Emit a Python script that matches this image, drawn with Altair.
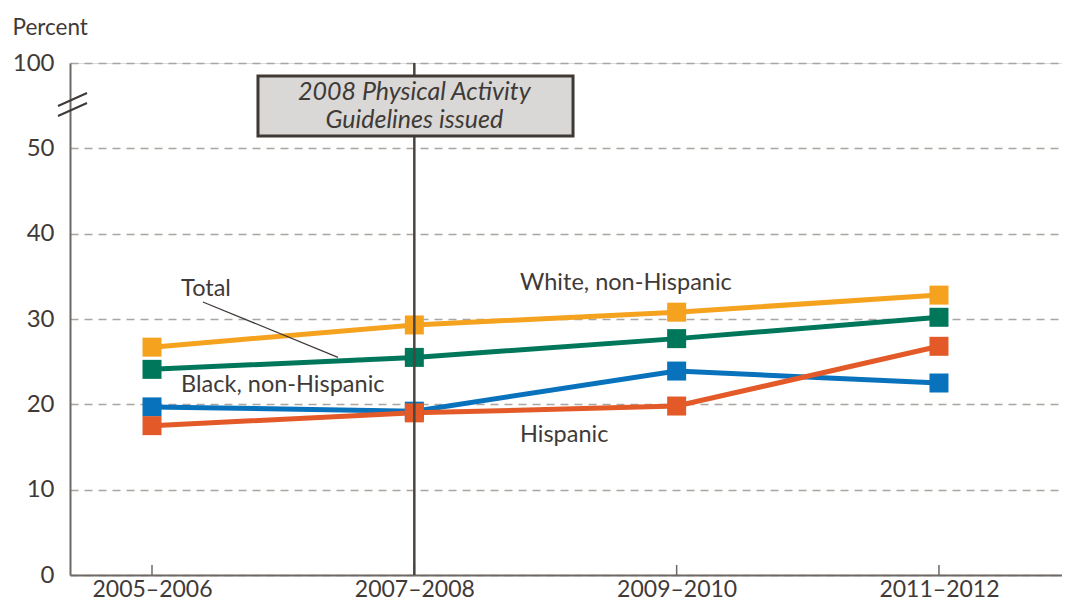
import altair as alt
import pandas as pd

# ---- data ----
periods = ["2005–2006", "2007–2008", "2009–2010", "2011–2012"]
series_names = ["White, non-Hispanic", "Total", "Black, non-Hispanic", "Hispanic"]
white = [26.7, 29.3, 30.8, 32.8]
total = [24.1, 25.5, 27.7, 30.2]
black = [19.7, 19.2, 23.9, 22.5]
hispanic = [17.5, 19.0, 19.8, 26.8]
colors = ["#F5A21F", "#00775B", "#0872BC", "#E35A28"]
y_ticks = [0, 10, 20, 30, 40, 50, 60]   # 60 is shown as "100" (broken axis)

rows = []
for name, vals in zip(series_names, [white, total, black, hispanic]):
    for i, v in enumerate(vals):
        rows.append({"series": name, "idx": i, "period": periods[i], "value": v})
df = pd.DataFrame(rows)

ticks_df = pd.DataFrame({"idx": list(range(len(periods)))})

labels_df = pd.DataFrame({
    "text": ["Total", "White, non-Hispanic", "Black, non-Hispanic", "Hispanic"],
    "idx": [0.111, 1.403, 0.111, 1.403],
    "value": [33.5, 34.2, 22.3, 16.4],
})
leader_df = pd.DataFrame({"x": [0.194], "y": [32.0], "x2": [0.709], "y2": [25.5]})
event_df = pd.DataFrame({"idx": [1], "y": [60], "y2": [0]})
box_df = pd.DataFrame({"x": [0.404], "x2": [1.605], "y": [58.48], "y2": [51.45]})
box_text_df = pd.DataFrame({
    "text": ["2008 Physical Activity", "Guidelines issued"],
    "idx": [1, 1],
    "value": [56.6, 53.3],
})

FONT = "Lato"
TXT = "#3f3a37"
AX = "#6e6964"

xscale = alt.Scale(domain=[-0.3126, 3.469], nice=False, zero=False)
yscale = alt.Scale(domain=[0, 60], nice=False)

label_expr = ("datum.value == 0 ? '2005–2006' : datum.value == 1 ? '2007–2008' : "
              "datum.value == 2 ? '2009–2010' : '2011–2012'")

x_enc = alt.X("idx:Q", scale=xscale, axis=alt.Axis(
    values=[0, 1, 2, 3], labelExpr=label_expr, title=None, grid=False, ticks=False,
    domainColor=AX, domainWidth=2, labelFont=FONT, labelFontSize=23, labelColor=TXT,
    labelPadding=3, labelFlush=False))
y_enc = alt.Y("value:Q", scale=yscale, axis=alt.Axis(
    values=y_ticks, labelExpr="datum.value == 60 ? '100' : datum.label",
    title="Percent", titleAngle=0, titleAlign="left", titleBaseline="middle",
    titleX=-58, titleY=-36, titleFont=FONT, titleFontSize=22.5, titleFontWeight="normal",
    titleColor=TXT, grid=True, gridDash=[8, 6], gridColor="#a9a5a0", gridWidth=1.5,
    ticks=False, domainColor=AX, domainWidth=2, labelFont=FONT, labelFontSize=24,
    labelColor=TXT, labelPadding=16))

color_enc = alt.Color("series:N", scale=alt.Scale(domain=series_names, range=colors), legend=None)

base = alt.Chart(df)
lines = base.mark_line(strokeWidth=5).encode(x=x_enc, y=y_enc, color=color_enc, detail="series:N")
points = base.mark_square(size=361, opacity=1, filled=True).encode(
    x=alt.X("idx:Q", scale=xscale), y=alt.Y("value:Q", scale=yscale), color=color_enc)

xticks = alt.Chart(ticks_df).mark_rule(color=AX, strokeWidth=1.5).encode(
    x=alt.X("idx:Q", scale=xscale), y=alt.value(512), y2=alt.value(502))

brk0 = alt.Chart(pd.DataFrame({"a": [0]})).mark_rule(color="#3f3a37", strokeWidth=2).encode(
    x=alt.value(-12), x2=alt.value(17), y=alt.value(43), y2=alt.value(30))
brk1 = alt.Chart(pd.DataFrame({"a": [0]})).mark_rule(color="#3f3a37", strokeWidth=2).encode(
    x=alt.value(-12), x2=alt.value(17), y=alt.value(53), y2=alt.value(40))

event = alt.Chart(event_df).mark_rule(color="#4a4541", strokeWidth=2.5).encode(
    x=alt.X("idx:Q", scale=xscale), y=alt.Y("y:Q", scale=yscale), y2="y2:Q")

box = alt.Chart(box_df).mark_rect(fill="#d9d8d6", stroke="#3e3935", strokeWidth=3).encode(
    x=alt.X("x:Q", scale=xscale), x2="x2:Q", y=alt.Y("y:Q", scale=yscale), y2="y2:Q")

box_text = alt.Chart(box_text_df).mark_text(
    font=FONT, fontSize=25, fontStyle="italic", color=TXT, align="center", baseline="middle"
).encode(x=alt.X("idx:Q", scale=xscale), y=alt.Y("value:Q", scale=yscale), text="text:N")

labels = alt.Chart(labels_df).mark_text(
    font=FONT, fontSize=23.5, color=TXT, align="left", baseline="middle"
).encode(x=alt.X("idx:Q", scale=xscale), y=alt.Y("value:Q", scale=yscale), text="text:N")

leader = alt.Chart(leader_df).mark_rule(color="#3f3a37", strokeWidth=1.2).encode(
    x=alt.X("x:Q", scale=xscale), x2="x2:Q", y=alt.Y("y:Q", scale=yscale), y2="y2:Q")

chart = alt.layer(
    lines, points, xticks, brk0, brk1, event, box, box_text, labels, leader
).properties(
    width=992, height=512,
    autosize=alt.AutoSizeParams(type="none"),
    padding={"left": 62, "top": 55, "right": 0, "bottom": 25},
).configure_view(stroke=None).configure(background="white")

chart.save("out.html", embed_options={"renderer": "svg", "actions": False})
